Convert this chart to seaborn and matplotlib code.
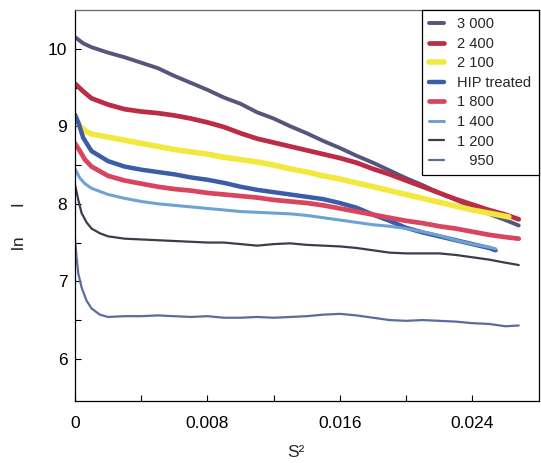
import matplotlib
matplotlib.use("Agg")
import matplotlib.pyplot as plt
import seaborn as sns

# series (x = S^2, y = ln I)
x_3000 = [0, 0.0005, 0.001, 0.002, 0.003, 0.004, 0.005, 0.006, 0.007, 0.008, 0.009, 0.010, 0.011, 0.012,
          0.013, 0.014, 0.015, 0.016, 0.017, 0.018, 0.019, 0.020, 0.021, 0.022, 0.023, 0.024, 0.025, 0.026, 0.0268]
y_3000 = [10.15, 10.07, 10.02, 9.95, 9.89, 9.82, 9.75, 9.65, 9.56, 9.47, 9.37, 9.29, 9.18, 9.10,
          9.00, 8.91, 8.81, 8.72, 8.62, 8.53, 8.43, 8.33, 8.24, 8.14, 8.05, 7.96, 7.87, 7.79, 7.72]

x_2400 = [0, 0.0005, 0.001, 0.002, 0.003, 0.004, 0.005, 0.006, 0.007, 0.008, 0.009, 0.010, 0.011, 0.012,
          0.013, 0.014, 0.015, 0.016, 0.017, 0.018, 0.019, 0.020, 0.021, 0.022, 0.023, 0.024, 0.025, 0.026, 0.0268]
y_2400 = [9.55, 9.45, 9.36, 9.28, 9.22, 9.19, 9.17, 9.14, 9.10, 9.05, 8.99, 8.91, 8.84, 8.79,
          8.74, 8.69, 8.64, 8.59, 8.53, 8.45, 8.38, 8.30, 8.22, 8.14, 8.06, 7.99, 7.92, 7.86, 7.80]

x_2100 = [0, 0.0003, 0.0007, 0.001, 0.002, 0.003, 0.004, 0.005, 0.006, 0.007, 0.008, 0.009, 0.010, 0.011,
          0.012, 0.013, 0.014, 0.015, 0.016, 0.017, 0.018, 0.019, 0.020, 0.021, 0.022, 0.023, 0.024, 0.025, 0.0262]
y_2100 = [9.10, 9.00, 8.93, 8.90, 8.86, 8.82, 8.78, 8.74, 8.70, 8.67, 8.64, 8.60, 8.57, 8.54,
          8.50, 8.45, 8.41, 8.36, 8.32, 8.27, 8.22, 8.17, 8.12, 8.07, 8.02, 7.97, 7.92, 7.88, 7.83]

x_hip = [0, 0.0002, 0.0005, 0.001, 0.002, 0.003, 0.004, 0.005, 0.006, 0.007, 0.008, 0.009, 0.010, 0.011,
         0.012, 0.013, 0.014, 0.015, 0.016, 0.017, 0.018, 0.019, 0.020, 0.021, 0.022, 0.023, 0.024, 0.025, 0.0254]
y_hip = [9.15, 9.05, 8.85, 8.68, 8.55, 8.48, 8.44, 8.41, 8.38, 8.34, 8.31, 8.27, 8.22, 8.18,
         8.15, 8.12, 8.09, 8.06, 8.01, 7.95, 7.86, 7.78, 7.69, 7.63, 7.58, 7.53, 7.48, 7.43, 7.40]

x_1800 = [0, 0.0003, 0.0006, 0.001, 0.002, 0.003, 0.004, 0.005, 0.006, 0.007, 0.008, 0.009, 0.010, 0.011,
          0.012, 0.013, 0.014, 0.015, 0.016, 0.017, 0.018, 0.019, 0.020, 0.021, 0.022, 0.023, 0.024, 0.025, 0.026, 0.0268]
y_1800 = [8.78, 8.68, 8.57, 8.48, 8.36, 8.30, 8.26, 8.22, 8.19, 8.17, 8.14, 8.12, 8.10, 8.08,
          8.05, 8.03, 8.01, 7.98, 7.94, 7.90, 7.86, 7.82, 7.78, 7.75, 7.71, 7.68, 7.64, 7.60, 7.57, 7.55]

x_1400 = [0, 0.0003, 0.0006, 0.001, 0.002, 0.003, 0.004, 0.005, 0.006, 0.007, 0.008, 0.009, 0.010, 0.011,
          0.012, 0.013, 0.014, 0.015, 0.016, 0.017, 0.018, 0.019, 0.020, 0.021, 0.022, 0.023, 0.024, 0.025, 0.0254]
y_1400 = [8.45, 8.33, 8.26, 8.20, 8.12, 8.07, 8.03, 8.00, 7.98, 7.96, 7.94, 7.92, 7.90, 7.89,
          7.88, 7.87, 7.85, 7.82, 7.79, 7.76, 7.73, 7.71, 7.68, 7.64, 7.59, 7.53, 7.48, 7.44, 7.42]

x_1200 = [0, 0.0002, 0.0004, 0.0007, 0.001, 0.0015, 0.002, 0.003, 0.004, 0.005, 0.006, 0.007, 0.008, 0.009,
          0.010, 0.011, 0.012, 0.013, 0.014, 0.015, 0.016, 0.017, 0.018, 0.019, 0.020, 0.021, 0.022, 0.023,
          0.024, 0.025, 0.026, 0.0268]
y_1200 = [8.25, 8.05, 7.88, 7.76, 7.68, 7.62, 7.58, 7.55, 7.54, 7.53, 7.52, 7.51, 7.50, 7.50,
          7.48, 7.46, 7.48, 7.49, 7.47, 7.46, 7.45, 7.43, 7.40, 7.37, 7.36, 7.36, 7.36, 7.34,
          7.31, 7.28, 7.24, 7.21]

x_950 = [0, 0.0001, 0.0002, 0.0004, 0.0007, 0.001, 0.0015, 0.002, 0.003, 0.004, 0.005, 0.006, 0.007, 0.008,
         0.009, 0.010, 0.011, 0.012, 0.013, 0.014, 0.015, 0.016, 0.017, 0.018, 0.019, 0.020, 0.021, 0.022,
         0.023, 0.024, 0.025, 0.026, 0.0268]
y_950 = [7.55, 7.30, 7.10, 6.92, 6.75, 6.65, 6.57, 6.54, 6.55, 6.55, 6.56, 6.55, 6.54, 6.55,
         6.53, 6.53, 6.54, 6.53, 6.54, 6.55, 6.57, 6.58, 6.56, 6.53, 6.50, 6.49, 6.50, 6.49,
         6.48, 6.46, 6.45, 6.42, 6.43]

labels = ["3 000", "2 400", "2 100", "HIP treated", "1 800", "1 400", "1 200", "   950"]
xs = [x_3000, x_2400, x_2100, x_hip, x_1800, x_1400, x_1200, x_950]
ys = [y_3000, y_2400, y_2100, y_hip, y_1800, y_1400, y_1200, y_950]
colors = ["#56567c", "#bc2c44", "#f2e83e", "#3c5ca8", "#d9455f", "#6ea2d2", "#3c3c4a", "#5c6c9e"]
widths = [2.8, 3.4, 4.0, 3.2, 3.4, 2.2, 1.6, 1.6]

x_ticks = [0, 0.008, 0.016, 0.024]
x_ticklabels = ["0", "0.008", "0.016", "0.024"]
x_minor = [0.004, 0.012, 0.020]
y_ticks = [6, 7, 8, 9, 10]
y_minor = [6.5, 7.5, 8.5, 9.5]

sns.set_style("ticks")
plt.rcParams['font.family'] = ['Liberation Sans', 'DejaVu Sans']

fig = plt.figure(figsize=(5.41, 4.63), dpi=100)
ax = fig.add_axes([0.1386, 0.1346, 0.857, 0.8438])

for x, y, c, w, lab in zip(xs, ys, colors, widths, labels):
    sns.lineplot(x=x, y=y, color=c, linewidth=w, label=lab, ax=ax)

ax.set_xlim(0, 0.028)
ax.set_ylim(5.46, 10.5)
ax.set_xticks(x_ticks)
ax.set_xticklabels(x_ticklabels)
ax.set_xticks(x_minor, minor=True)
ax.set_yticks(y_ticks)
ax.set_yticks(y_minor, minor=True)
ax.tick_params(axis='both', which='both', direction='in', length=4.2, width=0.8,
               labelsize=12.5, colors='black')
ax.tick_params(axis='x', which='both', pad=11)
ax.tick_params(axis='y', which='both', pad=5.5)

for side in ['left', 'bottom', 'right']:
    ax.spines[side].set_linewidth(0.9)
    ax.spines[side].set_color('black')
ax.spines['top'].set_linewidth(0.9)
ax.spines['top'].set_color('#666666')

ax.set_xlabel("S\u00b2", fontsize=12.5)
ax.xaxis.set_label_coords(0.4766, -0.114)
ax.set_ylabel("ln      I", fontsize=12.5)
ax.yaxis.set_label_coords(-0.103, 0.447)

leg = ax.legend(loc='upper right', bbox_to_anchor=(1.0, 1.0), borderaxespad=0,
                fontsize=10.5, handlelength=1.0, handletextpad=0.9, labelspacing=0.38,
                borderpad=0.5, frameon=True, fancybox=False, framealpha=1)
leg.get_frame().set_edgecolor('black')
leg.get_frame().set_linewidth(0.9)

fig.savefig("out.png", dpi=100)
